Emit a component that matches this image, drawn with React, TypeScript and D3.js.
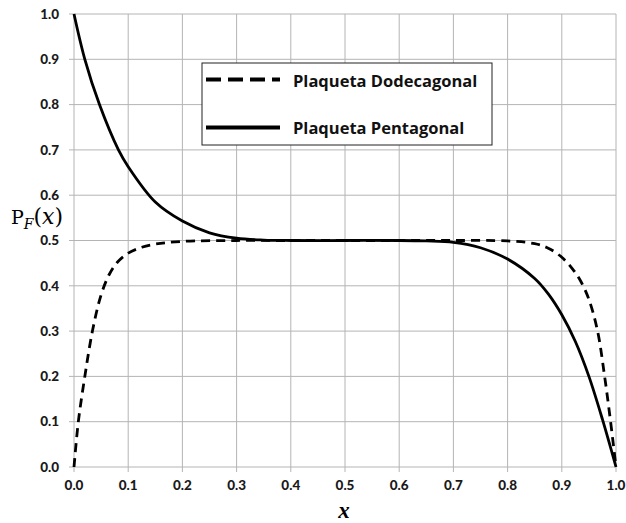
import React from "react";
import * as d3 from "d3";

const xTicks = [0, 0.1, 0.2, 0.3, 0.4, 0.5, 0.6, 0.7, 0.8, 0.9, 1.0];
const yTicks = [0, 0.1, 0.2, 0.3, 0.4, 0.5, 0.6, 0.7, 0.8, 0.9, 1.0];

const dodecX = [0, 0.008, 0.02, 0.034, 0.05, 0.065, 0.08, 0.1, 0.125, 0.15, 0.2, 0.3, 0.4, 0.5, 0.6, 0.7, 0.8, 0.85, 0.875, 0.9, 0.92, 0.935, 0.95, 0.966, 0.979, 0.99, 1.0];
const dodecY = [0, 0.1, 0.2, 0.3, 0.38, 0.425, 0.452, 0.472, 0.485, 0.492, 0.498, 0.5, 0.5, 0.5, 0.5, 0.5, 0.499, 0.493, 0.483, 0.463, 0.437, 0.41, 0.37, 0.3, 0.2, 0.1, 0];

const pentaX = [0, 0.02, 0.047, 0.082, 0.1, 0.15, 0.2, 0.25, 0.3, 0.35, 0.4, 0.5, 0.6, 0.65, 0.7, 0.75, 0.8, 0.85, 0.875, 0.9, 0.925, 0.95, 0.975, 1.0];
const pentaY = [1.0, 0.9, 0.8, 0.7, 0.663, 0.585, 0.543, 0.517, 0.505, 0.501, 0.5, 0.5, 0.5, 0.499, 0.496, 0.484, 0.459, 0.416, 0.382, 0.336, 0.277, 0.2, 0.105, 0];

const legendLabels = ["Plaqueta Dodecagonal", "Plaqueta Pentagonal"];

export default function App() {
  const W = 626, H = 523;
  const x = d3.scaleLinear().domain([0, 1]).range([74, 616]);
  const y = d3.scaleLinear().domain([0, 1]).range([467, 14]);
  const line = d3.line<[number, number]>().x(d => x(d[0])).y(d => y(d[1])).curve(d3.curveCatmullRom.alpha(0.5));
  const dodec = line(dodecX.map((v, i) => [v, dodecY[i]]) as [number, number][]) || "";
  const penta = line(pentaX.map((v, i) => [v, pentaY[i]]) as [number, number][]) || "";
  const grid = "#b4b4b4";
  const font = "Lato, 'Open Sans', sans-serif";
  const lfont = "'Open Sans', Lato, sans-serif";
  const serif = "'DejaVu Serif', 'Liberation Serif', serif";
  return (
    <svg width={W} height={H} style={{ position: "absolute", left: 0, top: 0, background: "#fff" }}>
      <rect x={0} y={0} width={W} height={H} fill="#fff" />
      {xTicks.map((t, i) => (
        <line key={"gx" + i} x1={x(t)} x2={x(t)} y1={y(1)} y2={y(0) + 5} stroke={grid} strokeWidth={1} />
      ))}
      {yTicks.map((t, i) => (
        <line key={"gy" + i} x1={x(0) - 5} x2={x(1)} y1={y(t)} y2={y(t)} stroke={grid} strokeWidth={1} />
      ))}
      {yTicks.map((t, i) => (
        <text key={"ty" + i} x={59} y={y(t) + 4.7} textAnchor="end" fontFamily={font} fontWeight="900" fontSize={13.5} fill="#1a1a1a">
          {t.toFixed(1)}
        </text>
      ))}
      {xTicks.map((t, i) => (
        <text key={"tx" + i} x={x(t)} y={490} textAnchor="middle" fontFamily={font} fontWeight="900" fontSize={13.5} fill="#1a1a1a">
          {t.toFixed(1)}
        </text>
      ))}
      <path d={dodec} fill="none" stroke="#000" strokeWidth={2.8} strokeDasharray="9,6" />
      <path d={penta} fill="none" stroke="#000" strokeWidth={2.8} />
      <rect x={202} y={63} width={290} height={82} fill="#fff" stroke="#222" strokeWidth={1} />
      <line x1={206} x2={280} y1={79.5} y2={79.5} stroke="#000" strokeWidth={4} strokeDasharray="15,7" />
      <line x1={206} x2={280} y1={127.5} y2={127.5} stroke="#000" strokeWidth={4} />
      <text x={293} y={86.5} fontFamily={lfont} fontWeight="bold" fontSize={16.5} fill="#111">{legendLabels[0]}</text>
      <text x={293} y={133.5} fontFamily={lfont} fontWeight="bold" fontSize={16.5} fill="#111">{legendLabels[1]}</text>
      <text x={11} y={223.5} fontFamily={serif} fontSize={19} fill="#000">
        P
        <tspan fontStyle="italic" fontSize={14} dy={5}>F</tspan>
        <tspan dy={-5} fontSize={22}>(</tspan>
        <tspan fontStyle="italic" fontSize={22}>x</tspan>
        <tspan fontSize={22}>)</tspan>
      </text>
      <text x={344} y={518} textAnchor="middle" fontFamily="'Liberation Serif', serif" fontStyle="italic" fontWeight="bold" fontSize={23} fill="#000">
        x
      </text>
    </svg>
  );
}
